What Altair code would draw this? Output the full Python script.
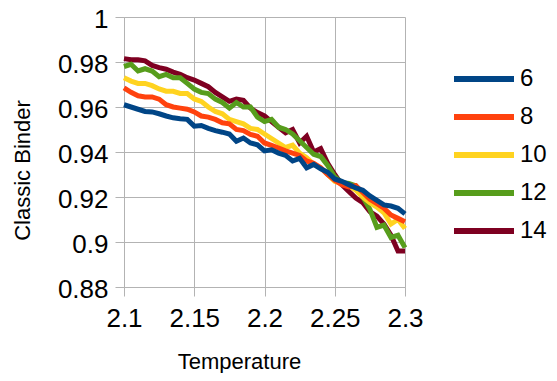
import altair as alt
import pandas as pd

temperature = [2.100, 2.105, 2.110, 2.115, 2.120, 2.125, 2.130, 2.135, 2.140, 2.145,
               2.150, 2.155, 2.160, 2.165, 2.170, 2.175, 2.180, 2.185, 2.190, 2.195,
               2.200, 2.205, 2.210, 2.215, 2.220, 2.225, 2.230, 2.235, 2.240, 2.245,
               2.250, 2.255, 2.260, 2.265, 2.270, 2.275, 2.280, 2.285, 2.290, 2.295,
               2.300]

sizes = ["6", "8", "10", "12", "14"]
colors = ["#004586", "#ff420e", "#ffd320", "#579d1c", "#7e0021"]

binder_6 = [0.9610, 0.9600, 0.9590, 0.9580, 0.9578, 0.9570, 0.9560, 0.9552, 0.9548, 0.9545,
            0.9515, 0.9518, 0.9505, 0.9495, 0.9488, 0.9480, 0.9448, 0.9462, 0.9440, 0.9432,
            0.9405, 0.9410, 0.9395, 0.9385, 0.9360, 0.9372, 0.9330, 0.9345, 0.9325, 0.9310,
            0.9280, 0.9270, 0.9255, 0.9240, 0.9230, 0.9205, 0.9185, 0.9165, 0.9160, 0.9150,
            0.9125]
binder_8 = [0.9685, 0.9665, 0.9650, 0.9645, 0.9645, 0.9635, 0.9610, 0.9600, 0.9595, 0.9590,
            0.9578, 0.9560, 0.9555, 0.9545, 0.9530, 0.9525, 0.9500, 0.9495, 0.9478, 0.9470,
            0.9440, 0.9430, 0.9418, 0.9405, 0.9395, 0.9385, 0.9360, 0.9350, 0.9330, 0.9300,
            0.9275, 0.9255, 0.9245, 0.9250, 0.9220, 0.9190, 0.9170, 0.9150, 0.9120, 0.9105,
            0.9090]
binder_10 = [0.9730, 0.9715, 0.9705, 0.9705, 0.9695, 0.9680, 0.9670, 0.9670, 0.9660, 0.9660,
             0.9636, 0.9625, 0.9600, 0.9580, 0.9570, 0.9545, 0.9535, 0.9525, 0.9505, 0.9500,
             0.9480, 0.9460, 0.9440, 0.9420, 0.9430, 0.9395, 0.9375, 0.9345, 0.9330, 0.9300,
             0.9270, 0.9260, 0.9250, 0.9230, 0.9200, 0.9175, 0.9155, 0.9130, 0.9080, 0.9100,
             0.9060]
binder_12 = [0.9780, 0.9790, 0.9760, 0.9770, 0.9760, 0.9735, 0.9745, 0.9730, 0.9730, 0.9705,
             0.9680, 0.9665, 0.9660, 0.9635, 0.9620, 0.9595, 0.9620, 0.9600, 0.9600, 0.9555,
             0.9535, 0.9545, 0.9510, 0.9500, 0.9480, 0.9450, 0.9420, 0.9390, 0.9380, 0.9340,
             0.9290, 0.9265, 0.9260, 0.9250, 0.9200, 0.9145, 0.9065, 0.9075, 0.9020, 0.9030,
             0.8975]
binder_14 = [0.9815, 0.9810, 0.9810, 0.9805, 0.9785, 0.9775, 0.9768, 0.9755, 0.9745, 0.9730,
             0.9720, 0.9705, 0.9690, 0.9665, 0.9645, 0.9625, 0.9635, 0.9630, 0.9595, 0.9575,
             0.9560, 0.9535, 0.9510, 0.9485, 0.9500, 0.9440, 0.9470, 0.9400, 0.9415, 0.9350,
             0.9300, 0.9255, 0.9225, 0.9195, 0.9175, 0.9135, 0.9115, 0.9080, 0.9030, 0.8960,
             0.8960]

series = {"6": binder_6, "8": binder_8, "10": binder_10, "12": binder_12, "14": binder_14}

rows = []
for name, vals in series.items():
    for t, v in zip(temperature, vals):
        rows.append({"Temperature": t, "Binder": v, "Size": name})
df = pd.DataFrame(rows)

FONT = "Liberation Sans"
GRID = "#b3b3b3"

x = alt.X("Temperature:Q",
          scale=alt.Scale(domain=[2.1, 2.3], nice=False, zero=False),
          axis=alt.Axis(values=[2.1, 2.15, 2.2, 2.25, 2.3], format=".2~f",
                        title="Temperature", titleX=115, titleY=81,
                        titleBaseline="alphabetic", titleAlign="center",
                        labelFlush=False))
y = alt.Y("Binder:Q",
          scale=alt.Scale(domain=[0.88, 1.0], nice=False, zero=False),
          axis=alt.Axis(values=[0.88, 0.9, 0.92, 0.94, 0.96, 0.98, 1.0], format=".2~f",
                        title="Classic Binder", titleX=-102, titleY=153,
                        titleBaseline="middle", titleAlign="center", titleAngle=270,
                        labelOffset=2, labelFlush=False))
color = alt.Color("Size:N",
                  scale=alt.Scale(domain=sizes, range=colors),
                  legend=alt.Legend(title=None, orient="none", legendX=347, legendY=49,
                                    symbolType="M-3,0H3", symbolSize=400,
                                    symbolStrokeWidth=6, labelOffset=23,
                                    rowPadding=13, padding=0,
                                    labelFontSize=24, labelFont=FONT, labelColor="black"))

layers = []
for name in reversed(sizes):
    layers.append(
        alt.Chart(df).transform_filter(alt.datum.Size == name)
        .mark_line(strokeWidth=5, strokeJoin="miter", strokeCap="butt")
        .encode(x=x, y=y, color=color)
    )

chart = alt.layer(*layers).properties(
    width=281, height=270,
    autosize=alt.AutoSizeParams(type="none"),
    padding={"left": 116, "top": 9, "right": 144, "bottom": 86},
).configure_view(stroke=None).configure_axis(
    gridColor=GRID, domainColor=GRID, tickColor=GRID,
    tickSize=9,
    labelFont=FONT, labelFontSize=26, labelColor="black",
    titleFont=FONT, titleFontSize=22, titleColor="black", titleFontWeight="normal",
).configure_axisX(labelPadding=9).configure_axisY(labelPadding=7)

chart.save("out.html", embed_options={"renderer": "svg", "actions": False})
